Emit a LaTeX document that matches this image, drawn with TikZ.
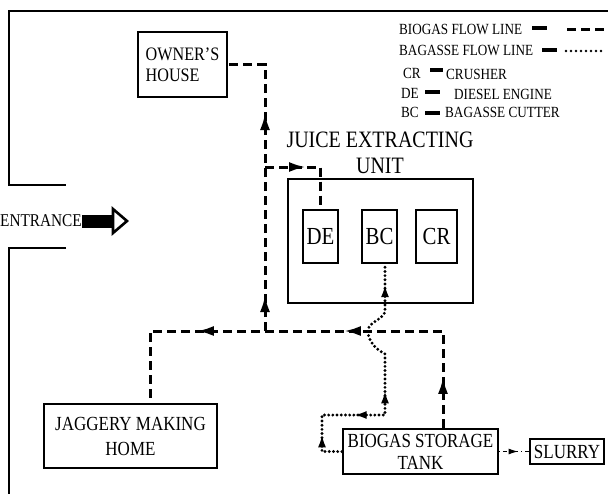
\documentclass[tikz,border=0pt]{standalone}
\usepackage{fontspec}
\setmainfont{Liberation Serif}[FakeStretch=0.85]
\usetikzlibrary{arrows.meta,decorations.markings}
\newcommand\myfs[2]{\fontsize{#1}{#2}\selectfont}
\tikzset{
  box/.style={draw, line width=2.3pt, inner sep=0pt, align=center},
  wall/.style={line width=2.4pt},
  biogas/.style={line width=3pt, dash pattern=on 9pt off 5pt},
  bagasse/.style={line width=3.2pt, dash pattern=on 0pt off 4.2pt, line cap=round},
  slurryline/.style={line width=1.6pt, dash pattern=on 1pt off 3pt on 4pt off 3pt},
  fw/.style={postaction={decorate,decoration={markings,mark=at position #1 with {\arrow{Latex[length=17pt,width=10pt]}}}}},
  bw/.style={postaction={decorate,decoration={markings,mark=at position #1 with {\arrowreversed{Latex[length=17pt,width=10pt]}}}}},
  fws/.style={postaction={decorate,decoration={markings,mark=at position #1 with {\arrow{Latex[length=13pt,width=8pt]}}}}},
  bws/.style={postaction={decorate,decoration={markings,mark=at position #1 with {\arrowreversed{Latex[length=13pt,width=8pt]}}}}},
  fwt/.style={postaction={decorate,decoration={markings,mark=at position #1 with {\arrow{Latex[length=10pt,width=6pt]}}}}},
  leg/.style={inner sep=0pt, anchor=west, font=\myfs{15.5}{17}},
  legbar/.style={line width=4pt},
}
\begin{document}
\begin{tikzpicture}[x=1pt,y=-1pt]
\useasboundingbox (0,0) rectangle (608,493);
\clip (0,0) rectangle (608,493);
\fill[white] (0,0) rectangle (608,493);

% walls
\draw[wall] (608,11) -- (9,11) -- (9,185) -- (66,185);
\draw[wall] (66,248) -- (9,248) -- (9,495);

% entrance
\node[inner sep=0pt, anchor=east, font=\myfs{18}{20}] (entr) at (82,221) {ENTRANCE};
\fill (82,214.5) rectangle (113,227.5);
\draw[line width=2.6pt, fill=white, line join=miter] (113,209) -- (127,221) -- (113,233) -- cycle;

% boxes
\node[box, minimum width=89pt, minimum height=65pt, align=left, font=\myfs{19}{21}] (owner) at (182.5,64.5) {OWNER'S\\HOUSE};
\node[inner sep=0pt, align=center, font=\myfs{23.5}{26}] (jlabel) at (380,153) {JUICE EXTRACTING\\UNIT};
\node[box, minimum width=185pt, minimum height=124pt] (juice) at (380.5,241) {};
\node[box, minimum width=35pt, minimum height=53pt, font=\myfs{24.5}{26}] (DE) at (320.5,236.5) {DE};
\node[box, minimum width=35pt, minimum height=53pt, font=\myfs{24.5}{26}] (BC) at (379.5,236.5) {BC};
\node[box, minimum width=41pt, minimum height=53pt, font=\myfs{24.5}{26}] (CR) at (436.5,236.5) {CR};
\node[box, minimum width=173pt, minimum height=64pt, font=\myfs{20}{25}] (jag) at (130.5,436) {JAGGERY MAKING\\HOME};
\node[box, minimum width=155pt, minimum height=45pt, font=\myfs{20}{22}] (tank) at (420.5,451.5) {BIOGAS STORAGE\\TANK};
\node[box, line width=2.8pt, minimum width=74pt, minimum height=25pt, font=\myfs{20}{22}] (slurry) at (567,451.5) {SLURRY};

% biogas flow lines
\coordinate (J1) at (265,331);
\coordinate (B1) at (265,167);
\coordinate (J2) at (443,331);
\coordinate (J3) at (150,331);
\coordinate (K) at (385,300);
\draw[biogas, fw=36pt, fw=218pt] (J1) |- (owner.east);
\draw[biogas, fw=41pt] (B1) -| (DE.north);
\draw[biogas, fw=51pt, fw=196pt, fw=343pt] (tank.north -| J2) -- (J2) -- (J3) -- (J3 |- jag.north);

% bagasse flow line
\draw[bagasse, fws=37pt, bws=88pt, fws=144pt, fws=-20pt]
  (tank.west) -- (322,451.5) -- (322,415) -- (385,415) -- (385,354)
  .. controls (374,348) and (368,340) .. (368,331)
  .. controls (368,321) and (385,320) .. (385,310) -- (K |- BC.south);

% slurry
\draw[slurryline, fwt=0.66] (tank.east) -- (slurry.west);

% legend
\node[leg] (l1) at (399,29) {BIOGAS FLOW LINE};
\draw[legbar] (532,28) -- (547,28);
\draw[biogas] (567,29) -- (612,29);
\node[leg] (l2) at (399,50) {BAGASSE FLOW LINE};
\draw[legbar] (542,50) -- (557,50);
\draw[line width=2.6pt, dash pattern=on 0pt off 5pt, line cap=round] (566,51) -- (604,51);
\node[leg] (l3) at (403,73) {CR};
\draw[legbar] (430,70) -- (443,70);
\node[leg] (l3b) at (446,74) {CRUSHER};
\node[leg] (l4) at (401,93) {DE};
\draw[legbar] (425,92) -- (440,92);
\node[leg] (l4b) at (454,94) {DIESEL ENGINE};
\node[leg] (l5) at (401,112) {BC};
\draw[legbar] (425,113) -- (440,113);
\node[leg] (l5b) at (445,112) {BAGASSE CUTTER};
\end{tikzpicture}
\end{document}
